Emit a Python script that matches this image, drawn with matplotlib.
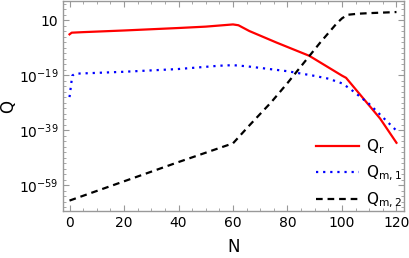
import matplotlib
matplotlib.use('Agg')
import matplotlib.pyplot as plt
from matplotlib.ticker import FixedLocator, FuncFormatter, NullFormatter
import numpy as np


# log10 values
nR = [0, 0.8, 5, 20, 40, 50, 60, 62, 66, 76, 88, 92, 100, 101.5, 114, 120]
logR = [-4.2, -3.6, -3.4, -2.8, -1.9, -1.4, -0.6, -0.9, -3.0, -7.2, -12.0, -14.4, -19.2, -20.0, -34.8, -43.6]

nM1 = [0, 1, 2, 10, 20, 40, 55, 60, 65, 80, 90, 95, 100, 103, 110, 120]
logM1 = [-27.0, -19.2, -18.5, -18.2, -17.8, -16.8, -15.6, -15.4, -15.8, -17.6, -19.3, -20.3, -22.0, -24.0, -29.5, -39.2]

nM2 = [0, 20, 40, 60, 66, 74, 80, 92, 98, 100, 102, 106, 110, 120]
logM2 = [-64.6, -57.6, -50.6, -43.8, -37.3, -28.9, -21.9, -7.2, -0.3, 1.6, 2.9, 3.3, 3.5, 3.9]

majorExp = [-59, -39, -19, 1]
xTicks = [0, 20, 40, 60, 80, 100, 120]


frameColour = '#999999'

fig = plt.figure(figsize=(4.09, 2.58), dpi=100)
ax = fig.add_axes([0.154, 0.182, 0.834, 0.814])

ax.plot(nR, 10.0 ** np.array(logR), color='red', lw=1.6, label=r'$\mathrm{Q_r}$')
ax.plot(nM1, 10.0 ** np.array(logM1), color='blue', lw=1.6, ls=(0, (1, 2.2)), label=r'$\mathrm{Q_{m,1}}$')
ax.plot(nM2, 10.0 ** np.array(logM2), color='black', lw=1.6, ls=(0, (3, 2.2)), label=r'$\mathrm{Q_{m,2}}$')

ax.set_yscale('log')
ax.set_xlim(-2.4, 122.8)
ax.set_ylim(10.0 ** -68.4, 10.0 ** 7.9)

ax.xaxis.set_major_locator(FixedLocator(xTicks))
ax.xaxis.set_minor_locator(FixedLocator(np.arange(0, 125, 5)))
ax.yaxis.set_major_locator(FixedLocator([10.0 ** e for e in majorExp]))
ax.yaxis.set_minor_locator(FixedLocator([10.0 ** e for e in range(-67, 8, 2)]))
ax.yaxis.set_minor_formatter(NullFormatter())


def fmtY(v, _):
    e = int(round(np.log10(v)))
    if e == 1:
        return '10'
    return r'$\mathdefault{10^{%d}}$' % e


ax.yaxis.set_major_formatter(FuncFormatter(fmtY))

for s in ax.spines.values():
    s.set_color(frameColour)
    s.set_linewidth(1.0)

ax.tick_params(which='both', direction='in', top=True, right=True, color=frameColour, labelsize=10)
ax.tick_params(which='major', length=4, width=0.8)
ax.tick_params(which='minor', length=2, width=0.6)

ax.set_xlabel('N', fontsize=12, labelpad=6)
ax.set_ylabel('Q', fontsize=12, labelpad=1)
ax.yaxis.set_label_coords(-0.135, 0.5)

ax.legend(loc='lower right', frameon=False, fontsize=11, handlelength=2.8, labelspacing=0.5,
          bbox_to_anchor=(1.025, -0.045), borderaxespad=0.3, handletextpad=0.5)

fig.savefig('out.png', dpi=100)
